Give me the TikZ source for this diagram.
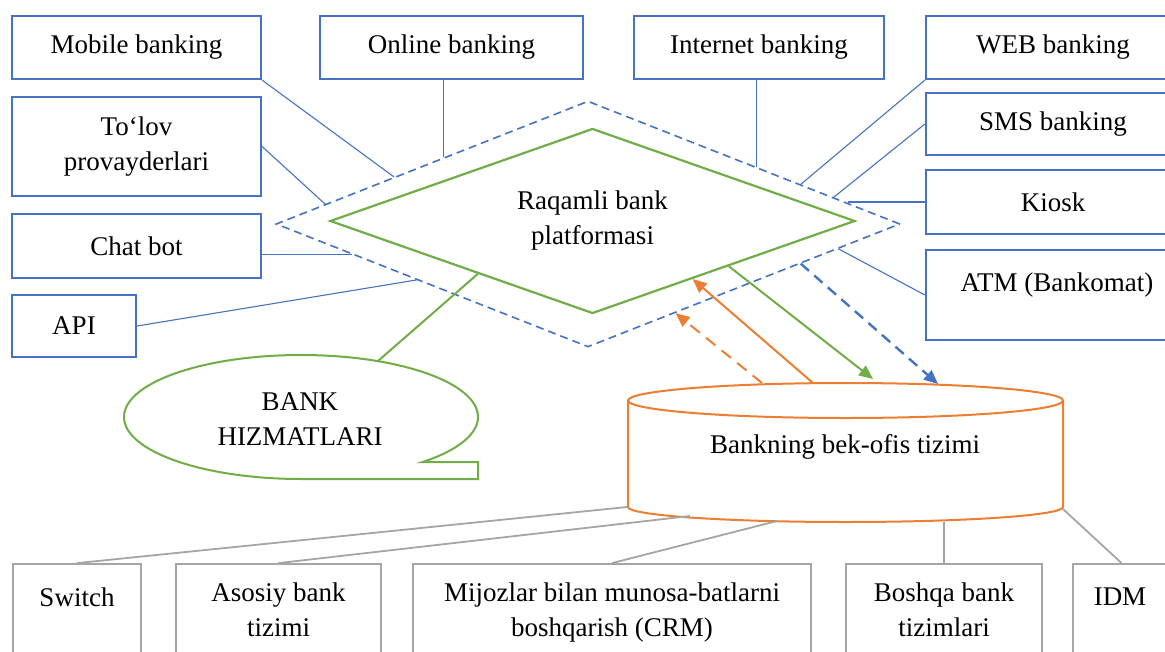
\documentclass[tikz,border=0pt]{standalone}
\usepackage{fontspec}
\setmainfont{Liberation Serif}
\usetikzlibrary{shapes.geometric,arrows.meta,calc}
\definecolor{cblue}{HTML}{4472C4}
\definecolor{cgreen}{HTML}{70AD47}
\definecolor{corange}{HTML}{ED7D31}
\definecolor{cgray}{HTML}{A5A5A5}
\tikzset{
  chan/.style={draw=cblue, line width=2.2pt, fill=white, inner sep=0pt, align=center},
  sysbox/.style={draw=cgray, line width=1.8pt, fill=white, inner sep=0pt},
  lbl/.style={inner sep=0pt, align=center},
  link/.style={draw=cblue, line width=1.1pt},
  sublink/.style={draw=cgray, line width=1.8pt},
  tipped/.style={-{Triangle[length=14pt,width=12pt]}},
}
\begin{document}
\begin{tikzpicture}[x=1pt, y=-1pt, font=\fontsize{27}{35}\selectfont]
\useasboundingbox (0,0) rectangle (1165,651);
\clip (0,0) rectangle (1165,651);

% --- platform: outer dashed frame and inner diamond
\node[diamond, draw=cblue, line width=1.6pt, dash pattern=on 8pt off 5pt,
      minimum width=624pt, minimum height=246pt, inner sep=0pt] (dd) at (588,224) {};
\node[diamond, draw=cgreen, line width=2.2pt, aspect=2.8, minimum width=525pt,
      minimum height=185pt, inner sep=0pt, align=center] (gp) at (592.5,221)
      {Raqamli bank\\platformasi};

% --- channel boxes, top row
\node[chan, minimum width=249pt, minimum height=63pt] (mob) at (136.5,47.5) {Mobile banking};
\node[chan, minimum width=263pt, minimum height=63pt] (onl) at (451.5,47.5) {Online banking};
\node[chan, minimum width=250pt, minimum height=63pt] (int) at (759,47.5) {Internet banking};
\node[chan, minimum width=254pt, minimum height=63pt] (web) at (1053,47.5) {WEB banking};
% right column
\node[chan, minimum width=254pt, minimum height=62pt] (sms) at (1053,124) {SMS banking};
\node[chan, minimum width=254pt, minimum height=64pt] (kio) at (1053,202) {Kiosk};
\node[chan, minimum width=254pt, minimum height=90pt] (atm) at (1053,295) {};
\node[lbl] (atm-t) at (1057,285) {ATM (Bankomat)};
% left column
\node[chan, minimum width=249pt, minimum height=99pt] (tol) at (136.5,146.5) {To‘lov\\provayderlari};
\node[chan, minimum width=249pt, minimum height=64pt] (cha) at (136.5,246) {Chat bot};
\node[chan, minimum width=124pt, minimum height=62pt] (api) at (74,326) {API};

% --- attachment points on the dashed frame
\coordinate (dd-mob) at ($(dd.west)!0.38!(dd.north)$);
\coordinate (dd-onl) at ($(dd.west)!0.538!(dd.north)$);
\coordinate (dd-tol) at ($(dd.west)!0.16!(dd.north)$);
\coordinate (dd-int) at ($(dd.north)!0.538!(dd.east)$);
\coordinate (dd-web) at ($(dd.north)!0.68!(dd.east)$);
\coordinate (dd-sms) at ($(dd.north)!0.785!(dd.east)$);
\coordinate (dd-kio) at ($(dd.north)!0.83!(dd.east)$);
\coordinate (dd-atm) at ($(dd.east)!0.2!(dd.south)$);
\coordinate (dd-bo)  at ($(dd.east)!0.32!(dd.south)$);
\coordinate (dd-ret) at ($(dd.east)!0.72!(dd.south)$);
\coordinate (dd-cha) at ($(dd.west)!0.247!(dd.south)$);
\coordinate (dd-api) at ($(dd.west)!0.452!(dd.south)$);
\coordinate (gp-svc) at ($(gp.west)!0.565!(gp.south)$);
\coordinate (gp-bo)  at ($(gp.east)!0.483!(gp.south)$);
\coordinate (gp-ret) at ($(gp.east)!0.62!(gp.south)$);

% --- channel links
\draw[link] (mob.south east) -- (dd-mob);
\draw[link] (dd-onl |- onl.south) -- (dd-onl);
\draw[link] (tol.east) -- (dd-tol);
\draw[link] (dd-int |- int.south) -- (dd-int);
\draw[link] (web.south west) -- (dd-web);
\draw[link] (sms.west) -- (dd-sms);
\draw[link] (kio.west) -- (kio.west -| dd-kio);
\draw[link] (atm.west) -- (dd-atm);
\draw[link] (dd-cha -| cha.east) -- (dd-cha);
\draw[link] (api.east) -- (dd-api);

% --- bank services callout
\draw[cgreen, line width=2pt, fill=white]
  (301,479) arc[start angle=90, end angle=406.8, x radius=177, y radius=62]
  -- (478,462) -- (478,479) -- cycle;
\node[lbl] (svc) at (300,419) {BANK\\HIZMATLARI};
\coordinate (svc-top) at (378,361);
\draw[cgreen, line width=2pt] (gp-svc) -- (svc-top);

% --- back-office cylinder
\draw[corange, line width=2pt, fill=white]
  (628,400.5) -- (628,507) arc[start angle=180, end angle=0, x radius=217.5, y radius=15]
  -- (1063,400.5);
\draw[corange, line width=2pt, fill=white] (845.5,400.5) ellipse[x radius=217.5, y radius=17.5];
\node[lbl] (bo) at (845,447) {Bankning bek-ofis tizimi};
\coordinate (bo-g)   at (873,379);
\coordinate (bo-b)   at (938,384);
\coordinate (bo-o1)  at (813,383);
\coordinate (bo-o2)  at (762,383);
\coordinate (bo-sw)  at (627,507);
\coordinate (bo-as)  at (690,516);
\coordinate (bo-mi)  at (777,521);
\coordinate (bo-bs)  at (943,522);
\coordinate (bo-idm) at (1063,509);

% --- data flows between platform and back office
\draw[cgreen, line width=2pt, tipped] (gp-bo) -- (bo-g);
\draw[cblue, line width=2.4pt, dash pattern=on 11pt off 7pt, tipped] (dd-bo) -- (bo-b);
\draw[corange, line width=2pt, tipped] (bo-o1) -- (gp-ret);
\draw[corange, line width=2pt, dash pattern=on 12pt off 8pt, tipped] (bo-o2) -- (dd-ret);

% --- back-office subsystems
\node[sysbox, minimum width=128pt, minimum height=106pt] (swi) at (77,617) {};
\node[sysbox, minimum width=205pt, minimum height=106pt] (aso) at (278.5,617) {};
\node[sysbox, minimum width=398pt, minimum height=106pt] (mij) at (612,617) {};
\node[sysbox, minimum width=196pt, minimum height=106pt] (bos) at (944,617) {};
\node[sysbox, minimum width=97pt, minimum height=106pt] (idm) at (1121.5,617) {};
\node[lbl] (swi-t) at (77,597) {Switch};
\node[lbl] (aso-t) at (278.5,610) {Asosiy bank\\tizimi};
\node[lbl] (mij-t) at (612,612) {Mijozlar bilan munosa-batlarni\\boshqarish (CRM)};
\node[lbl] (bos-t) at (944,610) {Boshqa bank\\tizimlari};
\node[lbl] (idm-t) at (1120,597) {IDM};

\draw[sublink] (swi.north) -- (bo-sw);
\draw[sublink] (aso.north) -- (bo-as);
\draw[sublink] (mij.north) -- (bo-mi);
\draw[sublink] (bos.north) -- (bos.north |- bo-bs);
\draw[sublink] (idm.north) -- (bo-idm);
\end{tikzpicture}
\end{document}
